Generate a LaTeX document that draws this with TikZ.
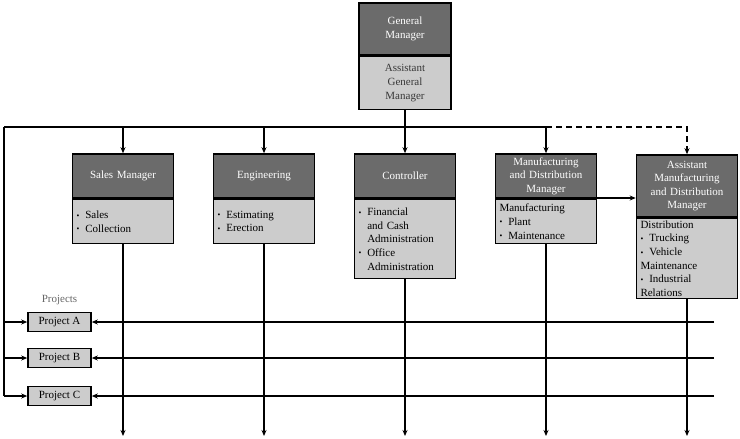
\documentclass[tikz,border=0pt]{standalone}
\usepackage{fontspec}
\setmainfont{Liberation Serif}
\usetikzlibrary{arrows.meta}
\usetikzlibrary{positioning}
\definecolor{hdgray}{gray}{0.42}
\definecolor{bdgray}{gray}{0.80}
\newcommand{\bul}{\makebox[0.8em][l]{\raisebox{0.1ex}{\footnotesize\textbullet}}}
\newcommand{\hng}{\hspace*{0.8em}}

\begin{document}
\begin{tikzpicture}[x=1pt,y=-1pt,line width=1.2pt,>={Stealth[length=6pt,width=5pt]},node distance=0pt,font=\fontsize{11}{13.6}\selectfont]
\tikzstyle{hd}=[draw,line width=1.6pt,fill=hdgray,text=white,align=center,text width=93pt,minimum height=44pt,inner xsep=4pt,inner ysep=2pt]
\tikzstyle{bd}=[draw,line width=1.6pt,fill=bdgray,align=left,text width=93pt,inner xsep=4pt,inner ysep=1.5pt]
\tikzstyle{pj}=[draw,line width=1.6pt,fill=bdgray,minimum width=63pt,minimum height=19pt,inner sep=0pt]
\useasboundingbox (0,0) rectangle (740,439);
\node[hd,text width=84pt,minimum height=52pt]	(GMh)	at (405,29)		{General\\Manager};
\node[bd,align=center,text=black!78,text width=84pt,minimum height=53pt]	(GMb)	[below= of GMh]	{Assistant\\General\\Manager};
\node[hd]	(SMh)	at (123,176)	{Sales Manager};
\node[bd,minimum height=44pt]	(SMb)	[below= of SMh]	{\bul Sales\\\bul Collection};
\node[hd]	(ENh)	at (264,176)	{Engineering};
\node[bd,minimum height=44pt]	(ENb)	[below= of ENh]	{\bul Estimating\\\bul Erection};
\node[hd]	(COh)	at (405,176)	{Controller};
\node[bd,minimum height=79pt]	(COb)	[below= of COh]	{\bul Financial\\\hng and Cash\\\hng Administration\\\bul Office\\\hng Administration};
\node[hd]	(MDh)	at (546,176)	{Manufacturing\\and Distribution\\Manager};
\node[bd,minimum height=44pt]	(MDb)	[below= of MDh]	{Manufacturing\\\bul Plant\\\bul Maintenance};
\node[hd,minimum height=62pt]	(AMh)	at (687,186)	{Assistant\\Manufacturing\\and Distribution\\Manager};
\node[bd,minimum height=80pt]	(AMb)	[below= of AMh]	{Distribution\\\bul Trucking\\\bul Vehicle\\Maintenance\\\bul Industrial\\Relations};
\node[pj]	(PA)	at (59.5,322)	{Project A};
\node[pj]	(PB)	at (59.5,358)	{Project B};
\node[pj]	(PC)	at (59.5,396)	{Project C};
\node[text=black!60]	(PJ)	[above=3pt of PA]	{Projects};
\coordinate	(BL)	at (4,127);
\coordinate	(BR)	at (687,127);
\coordinate	(M)		at (0,198);
\coordinate	(E)		at (0,436);
\coordinate	(RA)	at (714,322);
\coordinate	(RB)	at (714,358);
\coordinate	(RC)	at (714,396);

\draw (BL) -- (MDh.north |- BL);
\draw[dashed,dash pattern=on 6pt off 4pt,->] (MDh.north |- BL) -- (BR) -- (AMh);
\draw (BL) -- (BL |- PC);
\path(GMb)				edge			(GMb.south |- BL)
	 (SMh.north |- BL)	edge[->]		(SMh)
	 (ENh.north |- BL)	edge[->]		(ENh)
	 (COh.north |- BL)	edge[->]		(COh)
	 (MDh.north |- BL)	edge[->]		(MDh)
	 (MDh.east |- M)	edge[->]		(AMh.west |- M)
	 (SMb)				edge[->]		(SMb.south |- E)
	 (ENb)				edge[->]		(ENb.south |- E)
	 (COb)				edge[->]		(COb.south |- E)
	 (MDb)				edge[->]		(MDb.south |- E)
	 (AMb)				edge[->]		(AMb.south |- E)
	 (BL |- PA)			edge[->]		(PA)
	 (BL |- PB)			edge[->]		(PB)
	 (BL |- PC)			edge[->]		(PC)
	 (RA)				edge[->]		(PA)
	 (RB)				edge[->]		(PB)
	 (RC)				edge[->]		(PC);
\end{tikzpicture}
\end{document}
